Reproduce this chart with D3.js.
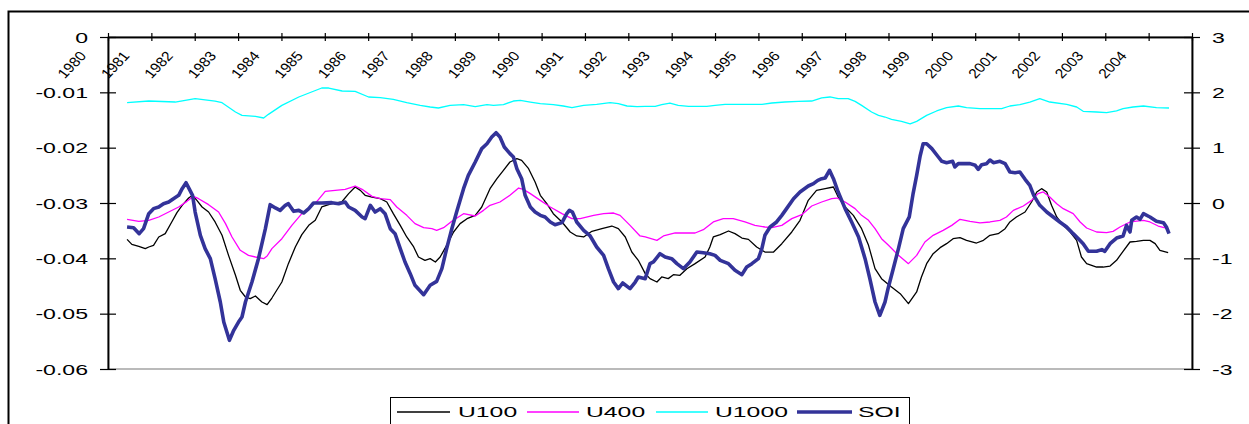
<!DOCTYPE html>
<html>
<head>
<meta charset="utf-8">
<script src="https://cdn.jsdelivr.net/npm/d3@7"></script>
<style>
  html, body { margin: 0; padding: 0; background: #fff; }
  svg { display: block; }
  text { font-family: "Liberation Sans", Arial, sans-serif; fill: #000; }
</style>
</head>
<body>
<svg id="chart" width="1249" height="424"></svg>
<script>
// ---- tick labels ----
const yearLabels = ["1980","1981","1982","1983","1984","1985","1986","1987","1988","1989","1990","1991","1992",
                    "1993","1994","1995","1996","1997","1998","1999","2000","2001","2002","2003","2004"];
const leftTicks  = [0, -0.01, -0.02, -0.03, -0.04, -0.05, -0.06];
const rightTicks = [3, 2, 1, 0, -1, -2, -3];

// ---- series: [decimal year, value] ----
const u100 = [
  [1980.44,-0.03657],[1980.55,-0.03747],[1980.71,-0.03783],[1980.86,-0.03825],[1980.94,-0.03795],[1981.05,-0.03765],
  [1981.17,-0.03614],[1981.32,-0.03554],[1981.47,-0.03343],[1981.59,-0.03175],[1981.71,-0.03042],[1981.86,-0.02910],
  [1981.95,-0.02861],[1982.05,-0.02952],[1982.17,-0.03072],[1982.32,-0.03163],[1982.47,-0.03343],[1982.63,-0.03584],
  [1982.78,-0.03946],[1982.94,-0.04307],[1983.05,-0.04578],[1983.17,-0.04699],[1983.28,-0.04729],[1983.40,-0.04681],
  [1983.55,-0.04789],[1983.67,-0.04837],[1983.78,-0.04717],[1984.01,-0.04428],[1984.16,-0.04096],[1984.32,-0.03795],
  [1984.47,-0.03572],[1984.63,-0.03404],[1984.78,-0.03313],[1984.93,-0.03072],[1985.16,-0.03012],[1985.39,-0.02982],
  [1985.55,-0.02831],[1985.70,-0.02711],[1985.82,-0.02771],[1985.93,-0.02861],[1986.09,-0.02892],[1986.28,-0.02922],
  [1986.43,-0.02982],[1986.58,-0.03193],[1986.74,-0.03404],[1986.89,-0.03614],[1987.05,-0.03795],[1987.16,-0.03976],
  [1987.31,-0.04036],[1987.43,-0.04006],[1987.55,-0.04066],[1987.66,-0.03976],[1987.81,-0.03765],[1987.97,-0.03524],
  [1988.12,-0.03373],[1988.28,-0.03283],[1988.47,-0.03223],[1988.62,-0.03072],[1988.81,-0.02741],[1988.97,-0.02560],
  [1989.12,-0.02410],[1989.27,-0.02259],[1989.43,-0.02199],[1989.54,-0.02229],[1989.70,-0.02380],[1989.85,-0.02620],
  [1989.97,-0.02861],[1990.12,-0.03012],[1990.27,-0.03193],[1990.47,-0.03343],[1990.66,-0.03524],[1990.81,-0.03596],
  [1990.97,-0.03614],[1991.16,-0.03512],[1991.39,-0.03464],[1991.62,-0.03416],[1991.77,-0.03464],[1991.93,-0.03614],
  [1992.08,-0.03886],[1992.23,-0.04036],[1992.39,-0.04277],[1992.50,-0.04367],[1992.66,-0.04428],[1992.77,-0.04337],
  [1992.92,-0.04367],[1993.04,-0.04295],[1993.19,-0.04307],[1993.35,-0.04187],[1993.54,-0.04096],[1993.77,-0.03976],
  [1993.88,-0.03795],[1993.96,-0.03614],[1994.12,-0.03572],[1994.31,-0.03506],[1994.46,-0.03554],[1994.62,-0.03633],
  [1994.77,-0.03657],[1994.96,-0.03795],[1995.15,-0.03886],[1995.35,-0.03886],[1995.54,-0.03735],[1995.77,-0.03524],
  [1995.96,-0.03313],[1996.15,-0.02952],[1996.34,-0.02771],[1996.54,-0.02741],[1996.73,-0.02711],[1996.84,-0.02892],
  [1997.00,-0.03072],[1997.19,-0.03223],[1997.38,-0.03464],[1997.54,-0.03765],[1997.69,-0.04187],[1997.84,-0.04367],
  [1998.07,-0.04518],[1998.27,-0.04639],[1998.46,-0.04819],[1998.65,-0.04608],[1998.76,-0.04337],[1998.88,-0.04096],
  [1999.03,-0.03916],[1999.19,-0.03807],[1999.34,-0.03735],[1999.49,-0.03645],[1999.65,-0.03627],[1999.80,-0.03675],
  [2000.03,-0.03723],[2000.19,-0.03675],[2000.34,-0.03584],[2000.53,-0.03554],[2000.69,-0.03464],[2000.80,-0.03343],
  [2000.95,-0.03253],[2001.15,-0.03163],[2001.30,-0.02982],[2001.42,-0.02801],[2001.53,-0.02741],[2001.65,-0.02801],
  [2001.76,-0.03042],[2001.88,-0.03253],[2002.03,-0.03404],[2002.19,-0.03524],[2002.34,-0.03675],[2002.45,-0.03976],
  [2002.57,-0.04096],[2002.80,-0.04157],[2002.95,-0.04157],[2003.11,-0.04139],[2003.26,-0.04036],[2003.41,-0.03873],
  [2003.57,-0.03705],[2003.72,-0.03693],[2003.88,-0.03675],[2004.03,-0.03675],[2004.15,-0.03735],[2004.26,-0.03855],
  [2004.45,-0.03898]
];

const u400 = [
  [1980.44,-0.03295],[1980.71,-0.03331],[1980.94,-0.03313],[1981.17,-0.03253],[1981.40,-0.03163],[1981.63,-0.03072],
  [1981.82,-0.02970],[1981.97,-0.02880],[1982.09,-0.02922],[1982.32,-0.03030],[1982.55,-0.03163],[1982.71,-0.03373],
  [1982.86,-0.03614],[1983.05,-0.03855],[1983.24,-0.03946],[1983.40,-0.03976],[1983.59,-0.04006],[1983.67,-0.03958],
  [1983.78,-0.03825],[1984.01,-0.03645],[1984.24,-0.03404],[1984.47,-0.03193],[1984.66,-0.03072],[1984.82,-0.02970],
  [1985.01,-0.02789],[1985.24,-0.02771],[1985.47,-0.02753],[1985.70,-0.02693],[1985.86,-0.02753],[1986.09,-0.02880],
  [1986.28,-0.02922],[1986.51,-0.02940],[1986.66,-0.03072],[1986.89,-0.03223],[1987.08,-0.03373],[1987.28,-0.03446],
  [1987.47,-0.03464],[1987.58,-0.03494],[1987.74,-0.03446],[1987.93,-0.03331],[1988.20,-0.03193],[1988.47,-0.03235],
  [1988.66,-0.03133],[1988.81,-0.03042],[1989.04,-0.02982],[1989.27,-0.02861],[1989.47,-0.02729],[1989.58,-0.02753],
  [1989.74,-0.02831],[1989.97,-0.02952],[1990.20,-0.03072],[1990.47,-0.03193],[1990.70,-0.03283],[1990.89,-0.03283],
  [1991.20,-0.03223],[1991.43,-0.03193],[1991.66,-0.03181],[1991.81,-0.03223],[1992.04,-0.03404],[1992.27,-0.03596],
  [1992.39,-0.03614],[1992.66,-0.03675],[1992.81,-0.03596],[1993.08,-0.03542],[1993.54,-0.03542],[1993.73,-0.03482],
  [1993.96,-0.03343],[1994.19,-0.03283],[1994.42,-0.03283],[1994.69,-0.03343],[1994.92,-0.03404],[1995.15,-0.03434],
  [1995.31,-0.03446],[1995.54,-0.03404],[1995.77,-0.03283],[1996.00,-0.03211],[1996.23,-0.03054],[1996.46,-0.02982],
  [1996.69,-0.02922],[1996.81,-0.02910],[1997.00,-0.02982],[1997.23,-0.03102],[1997.38,-0.03223],[1997.54,-0.03313],
  [1997.69,-0.03464],[1997.84,-0.03645],[1998.00,-0.03765],[1998.23,-0.03946],[1998.46,-0.04096],[1998.65,-0.03946],
  [1998.84,-0.03705],[1999.03,-0.03584],[1999.26,-0.03494],[1999.46,-0.03404],[1999.65,-0.03295],[1999.88,-0.03331],
  [2000.11,-0.03361],[2000.34,-0.03343],[2000.57,-0.03313],[2000.72,-0.03253],[2000.88,-0.03133],[2001.11,-0.03054],
  [2001.30,-0.02952],[2001.45,-0.02831],[2001.57,-0.02801],[2001.72,-0.02892],[2001.88,-0.03012],[2002.03,-0.03102],
  [2002.26,-0.03193],[2002.42,-0.03343],[2002.57,-0.03452],[2002.80,-0.03524],[2003.03,-0.03536],[2003.18,-0.03512],
  [2003.34,-0.03434],[2003.57,-0.03343],[2003.88,-0.03313],[2004.03,-0.03343],[2004.22,-0.03416],[2004.45,-0.03464]
];

const u1000 = [
  [1980.44,-0.01187],[1980.94,-0.01157],[1981.55,-0.01175],[1982.01,-0.01114],[1982.47,-0.01157],[1982.63,-0.01187],
  [1982.94,-0.01355],[1983.09,-0.01416],[1983.40,-0.01434],[1983.59,-0.01464],[1983.70,-0.01398],[1984.01,-0.01235],
  [1984.40,-0.01084],[1984.93,-0.00922],[1985.09,-0.00922],[1985.40,-0.00976],[1985.70,-0.00982],[1986.01,-0.01084],
  [1986.28,-0.01096],[1986.58,-0.01127],[1986.89,-0.01187],[1987.20,-0.01235],[1987.43,-0.01265],[1987.62,-0.01283],
  [1987.89,-0.01235],[1988.20,-0.01223],[1988.47,-0.01259],[1988.74,-0.01223],[1988.89,-0.01235],[1989.12,-0.01223],
  [1989.35,-0.01157],[1989.51,-0.01145],[1989.74,-0.01175],[1989.97,-0.01205],[1990.27,-0.01223],[1990.50,-0.01247],
  [1990.70,-0.01277],[1990.97,-0.01235],[1991.27,-0.01217],[1991.58,-0.01187],[1991.77,-0.01205],[1991.97,-0.01247],
  [1992.20,-0.01259],[1992.39,-0.01253],[1992.62,-0.01253],[1992.77,-0.01223],[1992.96,-0.01193],[1993.15,-0.01235],
  [1993.39,-0.01253],[1993.81,-0.01253],[1994.00,-0.01235],[1994.23,-0.01217],[1994.69,-0.01217],[1995.08,-0.01217],
  [1995.31,-0.01193],[1995.61,-0.01175],[1995.92,-0.01163],[1996.23,-0.01157],[1996.46,-0.01102],[1996.65,-0.01084],
  [1996.84,-0.01114],[1997.07,-0.01114],[1997.23,-0.01163],[1997.38,-0.01235],[1997.61,-0.01355],[1997.77,-0.01416],
  [1997.92,-0.01446],[1998.07,-0.01488],[1998.30,-0.01524],[1998.50,-0.01570],[1998.65,-0.01524],[1998.88,-0.01416],
  [1999.11,-0.01337],[1999.34,-0.01277],[1999.61,-0.01247],[1999.80,-0.01277],[2000.11,-0.01295],[2000.61,-0.01295],
  [2000.80,-0.01247],[2001.03,-0.01223],[2001.26,-0.01175],[2001.49,-0.01114],[2001.72,-0.01175],[2002.11,-0.01217],
  [2002.34,-0.01265],[2002.49,-0.01343],[2002.80,-0.01355],[2003.03,-0.01367],[2003.26,-0.01337],[2003.41,-0.01295],
  [2003.64,-0.01265],[2003.88,-0.01247],[2004.18,-0.01277],[2004.47,-0.01283]
];

const soi = [
  [1980.44,-0.434],[1980.59,-0.446],[1980.72,-0.554],[1980.82,-0.464],[1980.94,-0.193],[1981.05,-0.102],[1981.17,-0.072],
  [1981.28,-0.012],[1981.40,0.018],[1981.51,0.078],[1981.63,0.139],[1981.71,0.259],[1981.80,0.367],[1981.87,0.259],
  [1981.95,0.139],[1982.01,-0.163],[1982.13,-0.584],[1982.24,-0.825],[1982.36,-1.006],[1982.47,-1.367],[1982.59,-1.789],
  [1982.67,-2.151],[1982.80,-2.482],[1982.90,-2.301],[1983.01,-2.151],[1983.09,-2.060],[1983.17,-1.789],[1983.32,-1.428],
  [1983.47,-1.006],[1983.63,-0.464],[1983.74,-0.030],[1983.86,-0.090],[1983.97,-0.133],[1984.09,-0.042],[1984.16,-0.012],
  [1984.28,-0.151],[1984.40,-0.133],[1984.51,-0.181],[1984.63,-0.102],[1984.74,0.000],[1984.93,0.000],[1985.16,0.006],
  [1985.32,-0.012],[1985.47,0.018],[1985.55,-0.072],[1985.70,-0.133],[1985.86,-0.253],[1985.93,-0.283],[1986.05,-0.042],
  [1986.16,-0.163],[1986.28,-0.102],[1986.39,-0.193],[1986.51,-0.464],[1986.62,-0.554],[1986.74,-0.825],[1986.85,-1.066],
  [1986.97,-1.277],[1987.08,-1.488],[1987.28,-1.657],[1987.43,-1.488],[1987.58,-1.416],[1987.70,-1.187],[1987.81,-0.825],
  [1987.93,-0.464],[1988.04,-0.163],[1988.20,0.259],[1988.31,0.500],[1988.47,0.741],[1988.62,0.982],[1988.74,1.072],
  [1988.85,1.193],[1988.95,1.271],[1989.04,1.193],[1989.14,1.012],[1989.27,0.892],[1989.35,0.831],[1989.43,0.620],
  [1989.54,0.440],[1989.62,0.139],[1989.74,-0.072],[1989.85,-0.163],[1989.97,-0.223],[1990.08,-0.253],[1990.20,-0.343],
  [1990.31,-0.392],[1990.47,-0.355],[1990.58,-0.193],[1990.64,-0.133],[1990.71,-0.163],[1990.81,-0.343],[1990.97,-0.494],
  [1991.12,-0.596],[1991.27,-0.795],[1991.43,-0.946],[1991.54,-1.187],[1991.66,-1.428],[1991.77,-1.548],[1991.87,-1.446],
  [1992.04,-1.548],[1992.16,-1.428],[1992.23,-1.337],[1992.39,-1.367],[1992.50,-1.096],[1992.58,-1.066],[1992.73,-0.916],
  [1992.85,-0.976],[1993.00,-1.006],[1993.12,-1.096],[1993.27,-1.187],[1993.42,-1.066],[1993.58,-0.886],[1993.73,-0.898],
  [1993.88,-0.916],[1994.00,-0.946],[1994.12,-1.036],[1994.31,-1.096],[1994.46,-1.217],[1994.62,-1.295],[1994.73,-1.157],
  [1994.85,-1.096],[1995.00,-1.006],[1995.08,-0.825],[1995.15,-0.584],[1995.27,-0.434],[1995.42,-0.343],[1995.54,-0.223],
  [1995.65,-0.102],[1995.81,0.078],[1995.96,0.199],[1996.15,0.307],[1996.27,0.349],[1996.37,0.410],[1996.46,0.440],
  [1996.54,0.452],[1996.64,0.590],[1996.73,0.440],[1996.84,0.199],[1997.00,-0.102],[1997.15,-0.343],[1997.31,-0.614],
  [1997.46,-1.006],[1997.57,-1.367],[1997.69,-1.789],[1997.80,-2.030],[1997.92,-1.789],[1997.99,-1.548],[1998.11,-1.187],
  [1998.23,-0.825],[1998.34,-0.464],[1998.48,-0.250],[1998.57,0.180],[1998.65,0.500],[1998.73,0.850],[1998.80,1.072],
  [1998.88,1.072],[1999.00,0.982],[1999.15,0.831],[1999.23,0.753],[1999.34,0.729],[1999.48,0.753],[1999.53,0.651],
  [1999.61,0.711],[1999.72,0.711],[1999.88,0.711],[2000.00,0.681],[2000.07,0.608],[2000.15,0.693],[2000.26,0.711],
  [2000.34,0.777],[2000.42,0.729],[2000.57,0.753],[2000.69,0.711],[2000.80,0.560],[2000.92,0.548],[2001.03,0.560],
  [2001.15,0.428],[2001.26,0.319],[2001.35,0.139],[2001.49,-0.042],[2001.65,-0.163],[2001.80,-0.253],[2001.95,-0.343],
  [2002.11,-0.434],[2002.26,-0.554],[2002.38,-0.645],[2002.49,-0.735],[2002.61,-0.873],[2002.80,-0.873],[2002.92,-0.843],
  [2002.99,-0.873],[2003.11,-0.735],[2003.26,-0.633],[2003.41,-0.596],[2003.49,-0.404],[2003.57,-0.524],[2003.61,-0.313],
  [2003.72,-0.253],[2003.80,-0.295],[2003.88,-0.193],[2004.03,-0.253],[2004.18,-0.331],[2004.34,-0.355],[2004.41,-0.434],
  [2004.47,-0.554]
];

// ---- layout ----
const SX = 1.65;                       // horizontal glyph stretch of the axis and legend text
const plot = { left: 108, right: 1192, top: 37, bottom: 369 };
const svg = d3.select("#chart");

const x  = d3.scaleLinear().domain([1980, 2005]).range([plot.left, plot.right]);
const yL = d3.scaleLinear().domain([-0.06, 0]).range([plot.bottom, plot.top]);
const yR = d3.scaleLinear().domain([-3, 3]).range([plot.bottom, plot.top]);

// outer chart frame (runs past the right and bottom edges)
svg.append("rect")
  .attr("x", 8.5).attr("y", 11.5).attr("width", 1260).attr("height", 430)
  .attr("fill", "none").attr("stroke", "#000").attr("stroke-width", 2);

// plot area border
svg.append("rect")
  .attr("x", plot.left).attr("y", plot.top)
  .attr("width", plot.right - plot.left).attr("height", plot.bottom - plot.top)
  .attr("fill", "none").attr("stroke", "#8c8c8c").attr("stroke-width", 1.2);

// ---- series lines ----
const lineL = d3.line().x(d => x(d[0])).y(d => yL(d[1]));
const lineR = d3.line().x(d => x(d[0])).y(d => yR(d[1]));

const seriesDefs = [
  { name: "U100",  data: u100,  gen: lineL, color: "#000000", width: 1.3 },
  { name: "U400",  data: u400,  gen: lineL, color: "#ff00ff", width: 1.3 },
  { name: "U1000", data: u1000, gen: lineL, color: "#00ffff", width: 1.3 },
  { name: "SOI",   data: soi,   gen: lineR, color: "#333399", width: 3.6 }
];

svg.append("g").selectAll("path").data(seriesDefs).join("path")
  .attr("d", s => s.gen(s.data))
  .attr("fill", "none")
  .attr("stroke", s => s.color)
  .attr("stroke-width", s => s.width)
  .attr("stroke-linejoin", "round");

// ---- axes ----
function styleAxis(g) {
  g.selectAll(".domain").attr("stroke", "#000").attr("stroke-width", 1.5);
  g.selectAll(".tick line").attr("stroke", "#000").attr("stroke-width", 1.2);
}
const fmtL = d => d === 0 ? "0" : d.toFixed(2);

// left value axis (cross ticks)
const gLa = svg.append("g").attr("transform", `translate(${plot.left},0)`)
  .call(d3.axisLeft(yL).tickValues(leftTicks).tickSize(8).tickSizeOuter(0).tickFormat(fmtL));
svg.append("g").attr("transform", `translate(${plot.left},0)`)
  .call(d3.axisRight(yL).tickValues(leftTicks).tickSize(8).tickSizeOuter(0).tickFormat(""))
  .call(styleAxis);
gLa.call(styleAxis);
gLa.selectAll("text")
  .attr("x", 0).attr("dy", "0.36em")
  .attr("transform", `translate(-20,0) scale(${SX},1)`)
  .style("font-size", "14px");

// right value axis (cross ticks)
const gRa = svg.append("g").attr("transform", `translate(${plot.right},0)`)
  .call(d3.axisRight(yR).tickValues(rightTicks).tickSize(8).tickSizeOuter(0).tickFormat(d3.format("d")));
svg.append("g").attr("transform", `translate(${plot.right},0)`)
  .call(d3.axisLeft(yR).tickValues(rightTicks).tickSize(8).tickSizeOuter(0).tickFormat(""))
  .call(styleAxis);
gRa.call(styleAxis);
gRa.selectAll("text")
  .text(d => String(d))
  .attr("x", 0).attr("dy", "0.36em")
  .attr("transform", `translate(20,0) scale(${SX},1)`)
  .style("font-size", "14px");

// category axis along the top (cross ticks)
const yearTicks = yearLabels.map(Number).concat([2005]);
svg.append("g").attr("transform", `translate(0,${plot.top})`)
  .call(d3.axisTop(x).tickValues(yearTicks).tickSize(4).tickSizeOuter(0).tickFormat(""))
  .call(styleAxis);
svg.append("g").attr("transform", `translate(0,${plot.top})`)
  .call(d3.axisBottom(x).tickValues(yearTicks).tickSize(4).tickSizeOuter(0).tickFormat(""))
  .call(styleAxis);

// slanted year labels
const labAngle = 50, labSize = 13.5, labSX = 1.15;
svg.append("g").selectAll("text").data(yearLabels).join("text")
  .attr("text-anchor", "end")
  .style("font-size", labSize + "px")
  .attr("transform", d => `translate(${x(+d) - 21},${56.2}) scale(${labSX},1) rotate(${-labAngle})`)
  .text(d => d);

// ---- legend ----
const legend = svg.append("g");
legend.append("rect")
  .attr("x", 390.5).attr("y", 397.5).attr("width", 519).attr("height", 40)
  .attr("fill", "#fff").attr("stroke", "#000").attr("stroke-width", 1);
const legendPos = [
  { x1: 397, x2: 450, tx: 458 },
  { x1: 527, x2: 579, tx: 586 },
  { x1: 656, x2: 708, tx: 715 },
  { x1: 797, x2: 852, tx: 858 }
];
seriesDefs.forEach((s, i) => {
  const p = legendPos[i];
  legend.append("line")
    .attr("x1", p.x1).attr("x2", p.x2).attr("y1", 412).attr("y2", 412)
    .attr("stroke", s.color).attr("stroke-width", s.width);
  legend.append("text")
    .attr("transform", `translate(${p.tx},416.5) scale(${SX},1)`)
    .style("font-size", "15px")
    .text(s.name);
});
</script>
</body>
</html>
